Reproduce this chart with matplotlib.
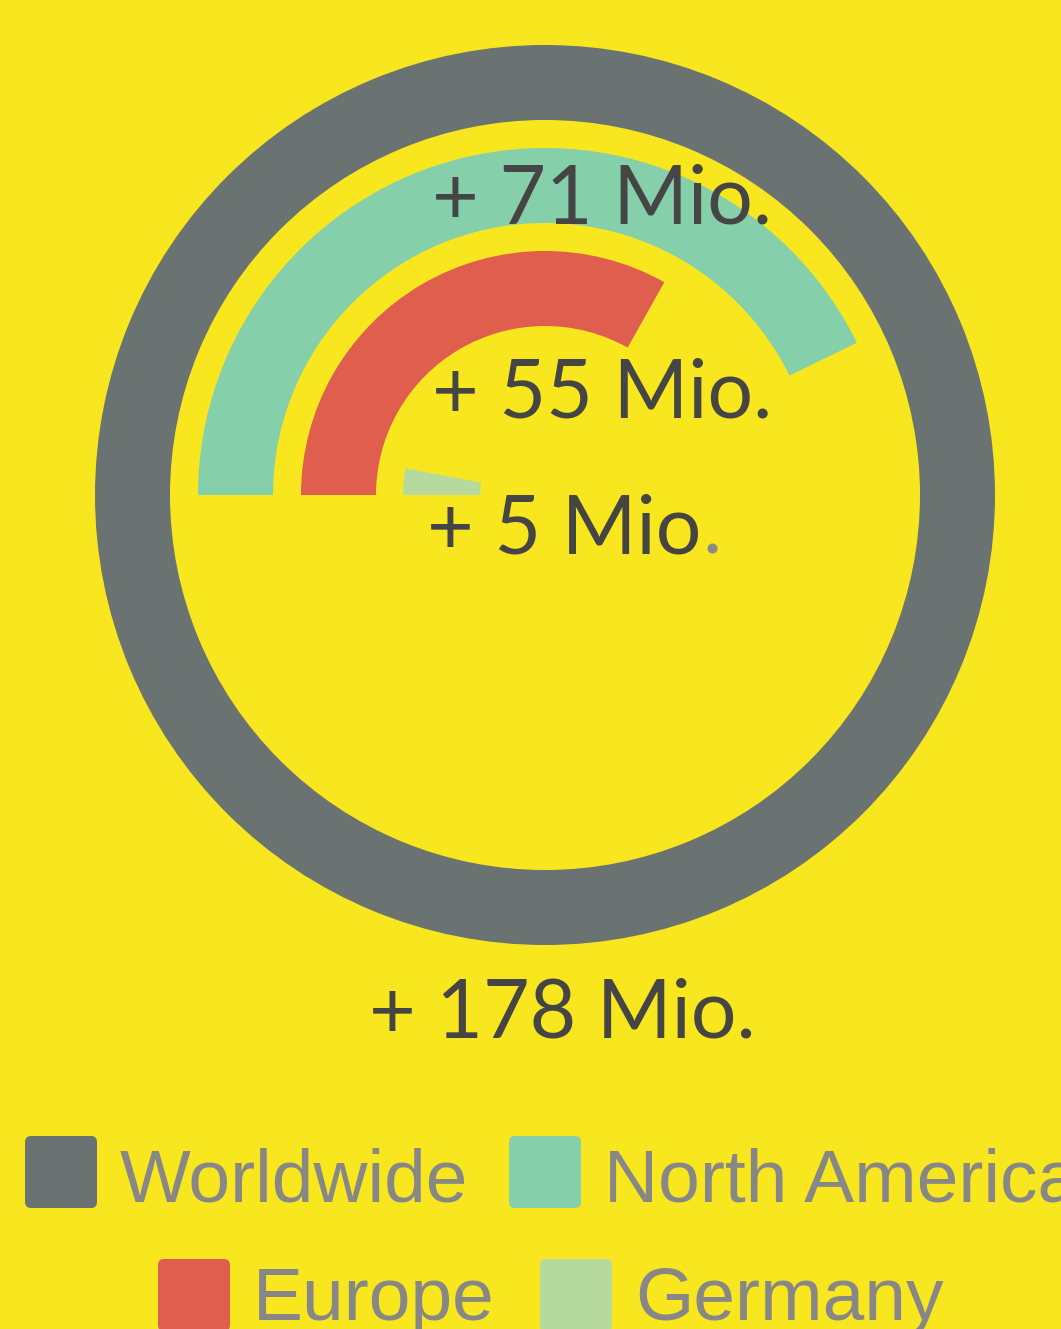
import matplotlib.pyplot as plt
from matplotlib.patches import Wedge, FancyBboxPatch

# data
regions = ['Worldwide', 'North America', 'Europe', 'Germany']
values = [178, 71, 55, 5]
labels = ['+ 178 Mio.', '+ 71 Mio.', '+ 55 Mio.', '+ 5 Mio']
colors = ['#6b7272', '#85d0ab', '#df5e4e', '#b6da9e']
max_value = 166  # scale: full circle

bg = '#f8e71e'
W, H = 1061, 1329

fig = plt.figure(figsize=(W / 100, H / 100), dpi=100, facecolor=bg)
ax = fig.add_axes([0, 0, 1, 1])
ax.set_xlim(0, W)
ax.set_ylim(H, 0)
ax.set_aspect('equal')
ax.axis('off')

cx, cy = 545, 495
outer = [450, 347, 244, 142]
width = [75, 75, 75, 77]

# radial bars, clockwise from 9 o'clock (y axis inverted -> angles go clockwise)
for v, r, w, c in zip(values, outer, width, colors):
    sweep = min(v / max_value * 360, 360)
    ax.add_patch(Wedge((cx, cy), r, 180, 180 + sweep, width=w, facecolor=c,
                       edgecolor='none'))

lato = ['Lato', 'DejaVu Sans']
tc = '#454545'
fs = 58
ax.text(562, 1037, labels[0], ha='center', va='baseline', fontsize=fs,
        color=tc, family=lato)
ax.text(432, 223, labels[1], ha='left', va='baseline', fontsize=fs,
        color=tc, family=lato)
ax.text(432, 418, labels[2], ha='left', va='baseline', fontsize=fs,
        color=tc, family=lato)
t = ax.text(427, 553, labels[3], ha='left', va='baseline', fontsize=fs,
            color=tc, family=lato)
fig.canvas.draw()
bb = t.get_window_extent().transformed(ax.transData.inverted())
ax.text(bb.x1 + 1, 553, '.', ha='left', va='baseline', fontsize=fs,
        color='#8a8a8a', family=lato)

# legend
leg_font = ['Liberation Sans', 'DejaVu Sans']
leg_x = [25, 509, 158, 540]
leg_y = [1136, 1136, 1259, 1259]
leg_base = [1201, 1201, 1320, 1320]
for name, c, x, y, b in zip(regions, colors, leg_x, leg_y, leg_base):
    ax.add_patch(FancyBboxPatch((x + 3, y + 3), 66, 66,
                                boxstyle='round,pad=3,rounding_size=6',
                                facecolor=c, edgecolor='none'))
    ax.text(x + 95, b, name, ha='left', va='baseline', fontsize=54,
            color='#878787', family=leg_font)

fig.savefig('out.png', dpi=100, facecolor=bg)
